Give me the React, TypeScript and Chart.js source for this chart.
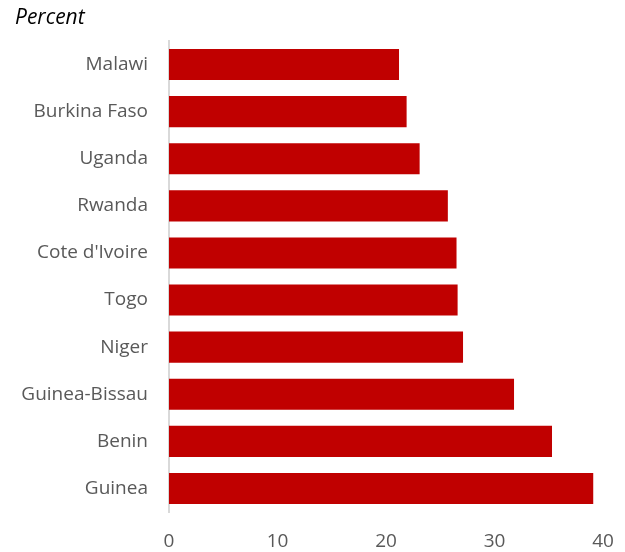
import React, { useEffect, useRef } from "react";
import { Chart, registerables } from "chart.js";

Chart.register(...registerables);

const categories = [
  "Malawi",
  "Burkina Faso",
  "Uganda",
  "Rwanda",
  "Cote d'Ivoire",
  "Togo",
  "Niger",
  "Guinea-Bissau",
  "Benin",
  "Guinea",
];
const values = [21.2, 21.9, 23.1, 25.7, 26.5, 26.6, 27.1, 31.8, 35.3, 39.1];
const unitLabel = "Percent";

const FONT = "'Open Sans', 'Liberation Sans', sans-serif";

export default function App() {
  const ref = useRef<HTMLCanvasElement | null>(null);

  useEffect(() => {
    if (!ref.current) return;
    const titlePlugin = {
      id: "unitLabel",
      afterDraw(chart: any) {
        const ctx = chart.ctx;
        ctx.save();
        ctx.font = `italic 21px ${FONT}`;
        ctx.fillStyle = "#000000";
        ctx.textAlign = "left";
        ctx.textBaseline = "alphabetic";
        ctx.fillText(unitLabel, 15, 24);
        ctx.restore();
      },
    };
    const chart = new Chart(ref.current, {
      type: "bar",
      data: {
        labels: categories,
        datasets: [
          {
            data: values,
            backgroundColor: "#C00000",
            borderWidth: 0,
            barPercentage: 0.66,
            categoryPercentage: 1,
          },
        ],
      },
      options: {
        indexAxis: "y",
        responsive: false,
        animation: false,
        layout: { padding: { top: 41, right: 22, left: 0, bottom: 0 } },
        plugins: { legend: { display: false }, tooltip: { enabled: false } },
        scales: {
          x: {
            min: 0,
            max: 40,
            ticks: {
              stepSize: 10,
              color: "#595959",
              font: { family: FONT, size: 19 },
              padding: 3,
            },
            grid: { display: false, drawTicks: true, tickLength: 15 },
            border: { display: false },
            afterFit(scale: any) {
              scale.height = 40;
            },
          },
          y: {
            ticks: {
              color: "#595959",
              font: { family: FONT, size: 19 },
              padding: 21,
            },
            grid: { display: false, drawTicks: false },
            border: { display: true, color: "#d9d9d9", width: 2 },
            afterFit(scale: any) {
              scale.width = 169;
            },
          },
        },
      },
      plugins: [titlePlugin],
    });
    return () => chart.destroy();
  }, []);

  return (
    <div style={{ position: "fixed", left: 0, top: 0, width: 625, height: 552, background: "#fff" }}>
      <canvas ref={ref} width={625} height={552} />
    </div>
  );
}
